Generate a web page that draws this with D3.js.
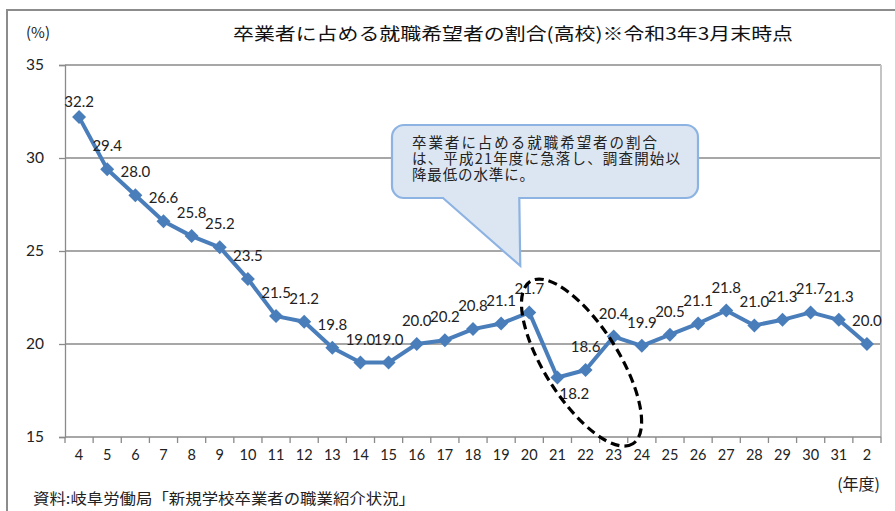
<!DOCTYPE html>
<html><head><meta charset="utf-8">
<script src="https://cdn.jsdelivr.net/npm/d3@7"></script>
<style>body{margin:0;background:#fff;} svg{display:block;}</style>
</head><body>
<svg id="c" width="895" height="511"></svg>
<script>
const categories = ["4","5","6","7","8","9","10","11","12","13","14","15","16","17","18","19","20","21","22","23","24","25","26","27","28","29","30","31","2"];
const values = [32.2,29.4,28.0,26.6,25.8,25.2,23.5,21.5,21.2,19.8,19.0,19.0,20.0,20.2,20.8,21.1,21.7,18.2,18.6,20.4,19.9,20.5,21.1,21.8,21.0,21.3,21.7,21.3,20.0];
const yTicks = [15,20,25,30,35];
const titleText = "卒業者に占める就職希望者の割合(高校)※令和3年3月末時点";
const calloutLines = ["卒業者に占める就職希望者の割合","は、平成21年度に急落し、調査開始以","降最低の水準に。"];
const sourceText = "資料:岐阜労働局「新規学校卒業者の職業紹介状況」";

const svg = d3.select("#c");
const L = 65, R = 881, T = 65, B = 437;
const x = d3.scaleBand().domain(categories).range([L, R]).padding(0);
const y = d3.scaleLinear().domain([15, 35]).range([B, T]);
const cx = c => x(c) + x.bandwidth() / 2;
const jp = "'Noto Sans CJK JP','Noto Sans',sans-serif";
const num = "Lato,'Liberation Sans',sans-serif";

// outer frame
svg.append("rect").attr("x", 7).attr("y", 10).attr("width", 900).attr("height", 520)
  .attr("fill", "none").attr("stroke", "#8c8c8c").attr("stroke-width", 2);

// gridlines
svg.append("g").selectAll("line").data(yTicks.filter(d => d > 15)).join("line")
  .attr("x1", L).attr("x2", R).attr("y1", d => y(d)).attr("y2", d => y(d))
  .attr("stroke", "#8a8a8a").attr("stroke-width", 1.3);
svg.append("line").attr("x1", R).attr("x2", R).attr("y1", T).attr("y2", B)
  .attr("stroke", "#c4c4c4").attr("stroke-width", 2);

// y axis
const ya = svg.append("g").attr("transform", `translate(${L},0)`)
  .call(d3.axisLeft(y).tickValues(yTicks).tickSize(6).tickPadding(15).tickFormat(d3.format("d")));
ya.select(".domain").attr("stroke", "#8a8a8a").attr("stroke-width", 1.3);
ya.selectAll(".tick line").attr("stroke", "#8a8a8a").attr("stroke-width", 1.3);
ya.selectAll(".tick text").attr("font-family", num).attr("font-size", 15.5).attr("fill", "#222");

// x axis
svg.append("line").attr("x1", L).attr("x2", R).attr("y1", B).attr("y2", B)
  .attr("stroke", "#8a8a8a").attr("stroke-width", 1.3);
const bounds = categories.map(c => x(c)).concat([R]);
svg.append("g").selectAll("line").data(bounds).join("line")
  .attr("x1", d => d).attr("x2", d => d).attr("y1", B).attr("y2", B + 6)
  .attr("stroke", "#8a8a8a").attr("stroke-width", 1.3);
svg.append("g").selectAll("text").data(categories).join("text")
  .attr("x", d => cx(d)).attr("y", 460).attr("text-anchor", "middle")
  .attr("font-family", "'Liberation Sans Narrow'," + num).attr("font-size", 14.5).attr("fill", "#222")
  .text(d => d);

// line
svg.append("path").datum(values)
  .attr("d", d3.line().x((d, i) => cx(categories[i])).y(d => y(d)))
  .attr("fill", "none").attr("stroke", "#4a7ebb").attr("stroke-width", 4).attr("stroke-linejoin", "round");
svg.append("g").selectAll("path").data(values).join("path")
  .attr("transform", (d, i) => `translate(${cx(categories[i])},${y(d)})`)
  .attr("d", "M0,-7L7,0L0,7L-7,0Z").attr("fill", "#4a7ebb");

// data labels
svg.append("g").selectAll("text").data(values).join("text")
  .attr("x", (d, i) => cx(categories[i]) + (i === 17 ? 17 : 0))
  .attr("y", (d, i) => y(d) + (i === 0 ? -10 : i === 17 ? 22 : -18))
  .attr("text-anchor", "middle").attr("font-family", num).attr("font-size", 15).attr("fill", "#222")
  .text(d => d.toFixed(1));

// dashed ellipse
const ex = cx("22") - 4, ey = y(19.0);
svg.append("ellipse").attr("cx", 0).attr("cy", 0).attr("rx", 96).attr("ry", 37)
  .attr("transform", `translate(${ex},${ey}) rotate(57.7)`)
  .attr("fill", "none").attr("stroke", "#000").attr("stroke-width", 3.2).attr("stroke-dasharray", "9,5");

// callout
const bx0 = 392, bx1 = 698, by0 = 125, by1 = 198, r = 12;
const tipX = cx("20") - 9, tipY = y(24.2);
const p = d3.path();
p.moveTo(bx0 + r, by0); p.lineTo(bx1 - r, by0); p.arcTo(bx1, by0, bx1, by0 + r, r);
p.lineTo(bx1, by1 - r); p.arcTo(bx1, by1, bx1 - r, by1, r);
p.lineTo(tipX - 1, by1); p.lineTo(tipX, tipY); p.lineTo(443, by1);
p.lineTo(bx0 + r, by1); p.arcTo(bx0, by1, bx0, by1 - r, r);
p.lineTo(bx0, by0 + r); p.arcTo(bx0, by0, bx0 + r, by0, r); p.closePath();
svg.append("path").attr("d", p.toString()).attr("fill", "#dce6f2").attr("stroke", "#8db3e2").attr("stroke-width", 2.2);
const cl = [245, 268, 122];
const ct = svg.append("text").attr("font-family", jp).attr("font-size", 14.5).attr("fill", "#222");
ct.selectAll("tspan").data(calloutLines).join("tspan")
  .attr("x", 412).attr("y", (d, i) => 148 + i * 16)
  .attr("textLength", (d, i) => cl[i]).attr("lengthAdjust", "spacing")
  .text(d => d);

// title and labels
svg.append("text").attr("x", 233).attr("y", 40).attr("font-family", jp).attr("font-size", 17.5)
  .attr("fill", "#111").attr("textLength", 560).attr("lengthAdjust", "spacingAndGlyphs").text(titleText);
svg.append("text").attr("x", 26).attr("y", 38).attr("font-family", jp).attr("font-size", 15).attr("fill", "#222").text("(%)");
svg.append("text").attr("x", 880).attr("y", 490).attr("text-anchor", "end").attr("font-family", jp).attr("font-size", 16).attr("fill", "#222").text("(年度)");
svg.append("text").attr("x", 33).attr("y", 504).attr("font-family", jp).attr("font-size", 15).attr("fill", "#222")
  .attr("textLength", 382).attr("lengthAdjust", "spacingAndGlyphs").text(sourceText);
</script>
</body></html>
